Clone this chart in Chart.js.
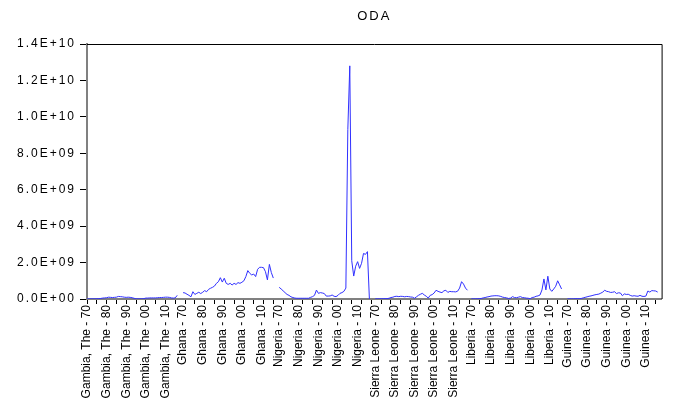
<!DOCTYPE html>
<html>
<head>
<meta charset="utf-8">
<script src="https://cdn.jsdelivr.net/npm/chart.js@4"></script>
<style>
  body { margin: 0; background: #fff; }
  .wrap { width: 677px; height: 403px; }
</style>
</head>
<body>
<div class="wrap"><canvas id="chart"></canvas></div>
<script>
// ODA by country, 1970-2018, in billions of USD
const countries = ['Gambia, The', 'Ghana', 'Nigeria', 'Sierra Leone', 'Liberia', 'Guinea']
const firstYear = 1970
const nYears = 49

const gambia = [0.005, 0.005, 0.008, 0.01, 0.01, 0.015, 0.02, 0.03, 0.05, 0.06,
    0.07, 0.1, 0.09, 0.08, 0.09, 0.1, 0.14, 0.13, 0.12, 0.1,
    0.09, 0.1, 0.09, 0.07, 0.04, 0.01, 0.01, 0.01, 0.01, 0.02,
    0.05, 0.05, 0.06, 0.06, 0.06, 0.06, 0.07, 0.08, 0.08, 0.09,
    0.1, 0.1, 0.09, 0.06, 0.05, 0.06, 0.2, null, null]
const ghana = [0.35, 0.33, 0.26, 0.2, 0.12, 0.4, 0.25, 0.31, 0.37, 0.3,
    0.37, 0.46, 0.4, 0.53, 0.59, 0.64, 0.71, 0.86, 0.95, 1.17,
    0.93, 1.14, 0.86, 0.8, 0.86, 0.77, 0.86, 0.8, 0.9, 0.86,
    0.92, 1.0, 1.23, 1.56, 1.41, 1.32, 1.37, 1.23, 1.63, 1.74,
    1.74, 1.72, 1.5, 1.05, 1.9, 1.45, 1.15, null, null]
const nigeria = [0.64, 0.55, 0.45, 0.35, 0.25, 0.2, 0.12, 0.08, 0.05, 0.04,
    0.04, 0.04, 0.04, 0.04, 0.04, 0.04, 0.09, 0.13, 0.2, 0.49,
    0.31, 0.35, 0.33, 0.3, 0.16, 0.16, 0.17, 0.22, 0.15, 0.13,
    0.2, 0.31, 0.35, 0.42, 0.6, 9.3, 12.8, 2.1, 1.26, 1.8,
    2.05, 1.68, 1.96, 2.5, 2.45, 2.6, 0.0, null, null]
const sierraLeone = [0.01, 0.01, 0.01, 0.015, 0.015, 0.02, 0.02, 0.04, 0.08, 0.1,
    0.14, 0.15, 0.13, 0.15, 0.14, 0.12, 0.14, 0.13, 0.11, 0.1,
    0.04, 0.12, 0.2, 0.26, 0.31, 0.22, 0.15, 0.05, 0.2, 0.24,
    0.33, 0.48, 0.42, 0.38, 0.35, 0.45, 0.48, 0.36, 0.42, 0.4,
    0.4, 0.39, 0.43, 0.6, 0.95, 0.82, 0.6, 0.48, null]
const liberia = [0.01, 0.01, 0.01, 0.015, 0.02, 0.03, 0.06, 0.08, 0.11, 0.13,
    0.16, 0.17, 0.18, 0.18, 0.17, 0.14, 0.1, 0.08, 0.06, 0.03,
    0.05, 0.13, 0.08, 0.07, 0.1, 0.13, 0.08, 0.07, 0.05, 0.04,
    0.02, 0.08, 0.1, 0.15, 0.17, 0.22, 0.5, 1.1, 0.5, 1.25,
    0.55, 0.42, 0.55, 0.7, 1.0, 0.78, 0.55, null, null]
const guinea = [0.01, 0.01, 0.01, 0.01, 0.02, 0.02, 0.02, 0.03, 0.06, 0.09,
    0.12, 0.15, 0.17, 0.2, 0.23, 0.25, 0.27, 0.32, 0.38, 0.48,
    0.42, 0.4, 0.36, 0.37, 0.4, 0.3, 0.34, 0.33, 0.18, 0.28,
    0.25, 0.26, 0.2, 0.16, 0.18, 0.16, 0.15, 0.2, 0.15, 0.14,
    0.16, 0.44, 0.38, 0.46, 0.45, 0.44, 0.38, null, null]

const yTicks = [0, 2e9, 4e9, 6e9, 8e9, 1e10, 1.2e10, 1.4e10]

// stack the cross sections one after another like the panel view does
let series = [gambia, ghana, nigeria, sierraLeone, liberia, guinea]
let labels = []
let values = []
countries.forEach((name, c) => {
    for (let i = 0; i < nYears; i++) {
        let yr = String(firstYear + i).slice(2)
        labels.push(i % 10 === 0 ? name + ' - ' + yr : '')
        let v = series[c][i]
        values.push(v === null ? null : v * 1e9)
    }
})

function sci(v) {
    if (v === 0) return '0.0E+00'
    let e = Math.floor(Math.log10(v) + 1e-9)
    let m = v / Math.pow(10, e)
    return m.toFixed(1) + 'E+' + String(e).padStart(2, '0')
}

const font = "'Liberation Sans', Arial, sans-serif"

// EViews draws its axis numbers wide, so space the letters out a bit
const spacing = {
    id: 'spacing',
    afterLayout(chart) {
        let s = chart.scales.y
        if (s._spaced) return
        let orig = s.drawLabels.bind(s)
        s.drawLabels = area => {
            s.ctx.letterSpacing = '2px'
            orig(area)
            s.ctx.letterSpacing = '0px'
        }
        s._spaced = true
    }
}

// title over the plot area, and the black top / right frame
const frame = {
    id: 'frame',
    afterDraw(chart) {
        let { ctx, chartArea: a } = chart
        ctx.save()
        ctx.strokeStyle = '#000'
        ctx.lineWidth = 1
        ctx.beginPath()
        ctx.moveTo(a.left, a.top + 0.5)
        ctx.lineTo(a.right + 0.5, a.top + 0.5)
        ctx.lineTo(a.right + 0.5, a.bottom)
        ctx.stroke()
        ctx.letterSpacing = '2px'
        ctx.fillStyle = '#000'
        ctx.font = '13px ' + font
        ctx.textAlign = 'center'
        ctx.textBaseline = 'middle'
        ctx.fillText('ODA', (a.left + a.right) / 2, 16)
        ctx.restore()
    }
}

new Chart(document.querySelector('#chart'), {
    type: 'line',
    data: {
        labels: labels,
        datasets: [{
            label: 'ODA',
            data: values,
            borderColor: '#3030ff',
            borderWidth: 1,
            pointRadius: 0,
            tension: 0,
            spanGaps: false,
            segment: {
                borderColor: ctx => ctx.p1DataIndex % nYears === 0 ? 'transparent' : undefined
            }
        }]
    },
    options: {
        responsive: true,
        maintainAspectRatio: false,
        animation: false,
        layout: { padding: { top: 44, right: 13, left: 0, bottom: 0 } },
        plugins: {
            legend: { display: false },
            tooltip: { enabled: false }
        },
        scales: {
            x: {
                afterFit: s => { s.height = 104 },
                border: { color: '#808080', width: 2 },
                grid: {
                    drawOnChartArea: false,
                    tickLength: 5,
                    color: ctx => ctx.index % 5 === 0 ? '#000' : 'transparent'
                },
                ticks: {
                    autoSkip: false,
                    minRotation: 90,
                    maxRotation: 90,
                    padding: 1,
                    color: '#000',
                    font: { family: font, size: 12 }
                }
            },
            y: {
                min: 0,
                max: 1.4e10,
                afterFit: s => { s.width = 87 },
                afterBuildTicks: s => { s.ticks = yTicks.map(v => ({ value: v })) },
                border: { color: '#808080', width: 2 },
                grid: { drawOnChartArea: false, tickLength: 7, color: '#000' },
                ticks: {
                    padding: 4,
                    color: '#000',
                    font: { family: font, size: 12 },
                    callback: v => sci(v)
                }
            }
        }
    },
    plugins: [spacing, frame]
})
</script>
</body>
</html>
